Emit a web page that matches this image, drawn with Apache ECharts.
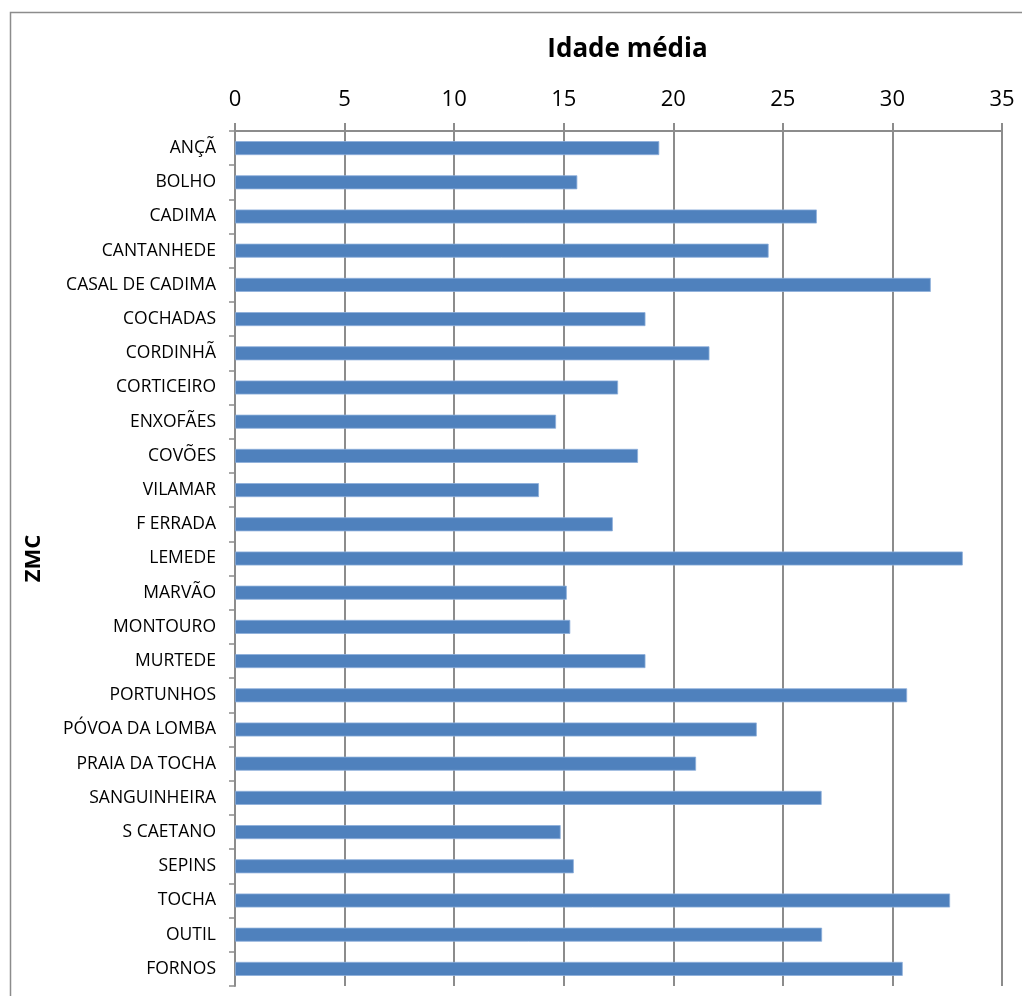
<!DOCTYPE html>
<html>
<head>
<meta charset="utf-8">
<script src="https://cdn.jsdelivr.net/npm/echarts@6/dist/echarts.min.js"></script>
<style>
html,body{margin:0;padding:0;background:#fff;}
#c{width:1022px;height:996px;}
</style>
</head>
<body>
<div id="c"></div>
<script>
const categories = ["ANÇÃ","BOLHO","CADIMA","CANTANHEDE","CASAL DE CADIMA","COCHADAS","CORDINHÃ","CORTICEIRO","ENXOFÃES","COVÕES","VILAMAR","F ERRADA","LEMEDE","MARVÃO","MONTOURO","MURTEDE","PORTUNHOS","PÓVOA DA LOMBA","PRAIA DA TOCHA","SANGUINHEIRA","S CAETANO","SEPINS","TOCHA","OUTIL","FORNOS"];
const values = [19.36,15.62,26.55,24.35,31.75,18.73,21.65,17.48,14.65,18.39,13.87,17.24,33.21,15.14,15.3,18.73,30.67,23.81,21.04,26.77,14.86,15.46,32.63,26.79,30.47];
const xTitle = "Idade média";
const yTitle = "ZMC";

const chart = echarts.init(document.getElementById('c'));
chart.setOption({
  animation: false,
  backgroundColor: '#fff',
  graphic: [{
    type: 'rect',
    shape: {x: 10.5, y: 12.5, width: 1030, height: 1010},
    style: {fill: 'none', stroke: '#8c8c8c', lineWidth: 1.5},
    silent: true
  }],
  grid: {left: 235, right: 20, top: 131, bottom: 10, containLabel: false},
  xAxis: {
    type: 'value',
    position: 'top',
    min: 0, max: 35, interval: 5,
    name: xTitle,
    nameLocation: 'middle',
    nameGap: 68,
    nameTextStyle: {fontFamily: 'Open Sans', fontSize: 26, fontWeight: 'bold', color: '#000', padding: [0,0,0,18]},
    axisLine: {show: true, lineStyle: {color: '#8c8c8c', width: 2}},
    axisTick: {show: true, length: 8, lineStyle: {color: '#8c8c8c', width: 2}},
    axisLabel: {fontFamily: 'Open Sans', fontSize: 22, color: '#000', margin: 20},
    splitLine: {show: true, lineStyle: {color: '#8c8c8c', width: 2}}
  },
  yAxis: {
    type: 'category',
    data: categories,
    inverse: true,
    name: yTitle,
    nameLocation: 'middle',
    nameGap: 190,
    nameRotate: 90,
    nameTextStyle: {fontFamily: 'Open Sans', fontSize: 22, fontWeight: 'bold', color: '#000'},
    axisLine: {show: true, lineStyle: {color: '#8c8c8c', width: 2}},
    axisTick: {show: true, length: 6, alignWithLabel: false, lineStyle: {color: '#8c8c8c', width: 1.5}},
    axisLabel: {fontFamily: 'Open Sans', fontSize: 17.5, color: '#000', margin: 19},
    splitLine: {show: false}
  },
  series: [{
    type: 'bar',
    data: values,
    barWidth: 14,
    itemStyle: {color: '#4F81BD', borderColor: '#8DAEDA', borderWidth: 0.8}
  }]
});
</script>
</body>
</html>
